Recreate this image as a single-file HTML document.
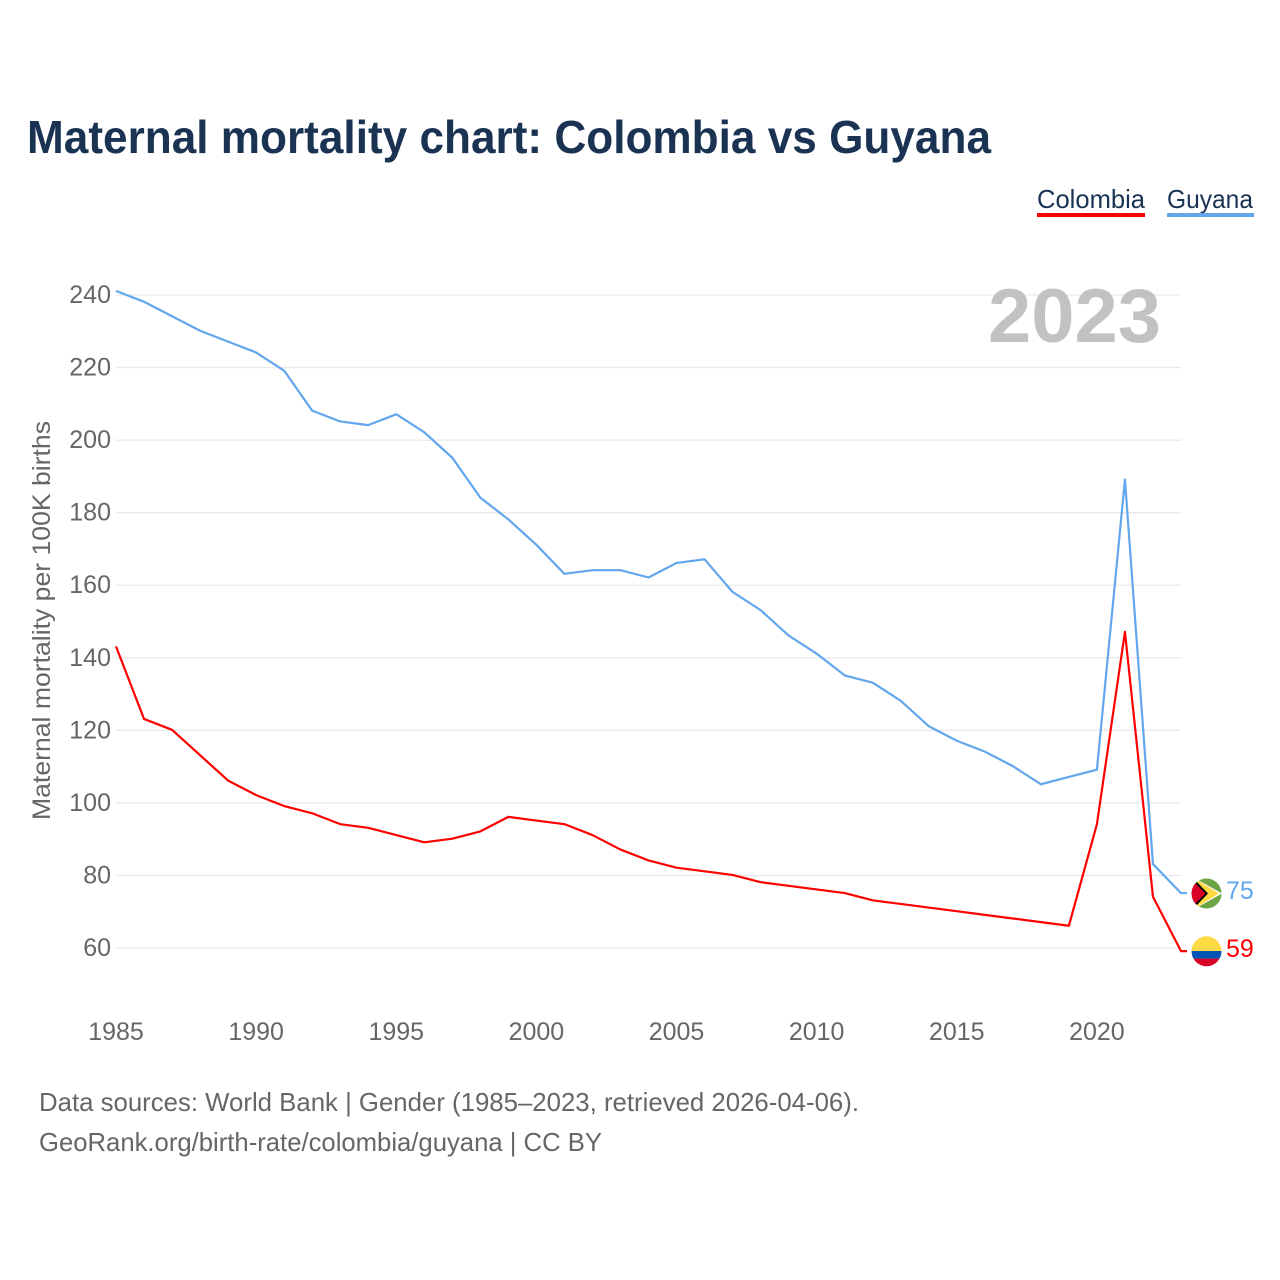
<!DOCTYPE html>
<html lang="en">
<head>
<meta charset="utf-8">
<title>Maternal mortality chart: Colombia vs Guyana</title>
<style>
html,body{margin:0;padding:0;background:#fff;}
svg{display:block;font-family:"Liberation Sans",sans-serif;}
</style>
</head>
<body>
<svg id="chart" width="1280" height="1280" viewBox="0 0 1280 1280" xmlns="http://www.w3.org/2000/svg">
  <defs>
    <clipPath id="clip-guyana"><circle cx="1206.5" cy="893.5" r="15"/></clipPath>
    <clipPath id="clip-colombia"><circle cx="1206.5" cy="951.3" r="15"/></clipPath>
  </defs>
  <rect x="0" y="0" width="1280" height="1280" fill="#fff"/>
  <text x="27" y="153" font-size="46" font-weight="700" fill="#1a3353" textLength="964" lengthAdjust="spacingAndGlyphs">Maternal mortality chart: Colombia vs Guyana</text>

  <g>
    <g>
      <text x="1037" y="208" font-size="26" fill="#1a3353" textLength="108" lengthAdjust="spacingAndGlyphs">Colombia</text>
      <rect x="1037" y="213" width="108" height="4" fill="#ff0000"/>
    </g>
    <g>
      <text x="1167" y="208" font-size="26" fill="#1a3353" textLength="86" lengthAdjust="spacingAndGlyphs">Guyana</text>
      <rect x="1167" y="213" width="87" height="4" fill="#62a6ee"/>
    </g>
  </g>

  <g id="grid"></g>
  <g id="y-ticks"></g>
  <g id="x-ticks"></g>

  <text x="988" y="342" font-size="76" font-weight="700" fill="#c2c2c2" textLength="173" lengthAdjust="spacingAndGlyphs">2023</text>

  <text transform="translate(50,820) rotate(-90)" x="0" y="0" font-size="25" fill="#666" textLength="399" lengthAdjust="spacingAndGlyphs">Maternal mortality per 100K births</text>

  <path id="line-guyana" fill="none" stroke="#62a6ee" stroke-width="2.2" stroke-linejoin="round"/>
  <path id="line-colombia" fill="none" stroke="#ff0000" stroke-width="2.2" stroke-linejoin="round"/>

  <g id="flag-guyana" clip-path="url(#clip-guyana)">
    <rect x="1191" y="878" width="31" height="31" fill="#6da544"/>
    <polygon points="1191,876 1222,893.5 1191,911" fill="#fff"/>
    <polygon points="1194,878 1219,893.5 1194,909" fill="#ffda44"/>
    <polygon points="1193,878 1208,893.5 1193,909" fill="#000"/>
    <polygon points="1190,878 1205.5,893.5 1190,909" fill="#d80027"/>
  </g>
  <g id="flag-colombia" clip-path="url(#clip-colombia)">
    <rect x="1191" y="936" width="31" height="15" fill="#ffda44"/>
    <rect x="1191" y="951" width="31" height="7.6" fill="#0052b4"/>
    <rect x="1191" y="958.6" width="31" height="8" fill="#d80027"/>
  </g>
  <text id="value-guyana" x="1226" y="899" font-size="25" fill="#62a6ee"></text>
  <text id="value-colombia" x="1226" y="957" font-size="25" fill="#ff0000"></text>

  <text x="39" y="1111" font-size="26" fill="#666" textLength="820" lengthAdjust="spacingAndGlyphs">Data sources: World Bank | Gender (1985–2023, retrieved 2026-04-06).</text>
  <text x="39" y="1151" font-size="26" fill="#666" textLength="563" lengthAdjust="spacingAndGlyphs">GeoRank.org/birth-rate/colombia/guyana | CC BY</text>
</svg>
<script>
const firstYear = 1985;
const colombiaValues = [143,123,120,113,106,102,99,97,94,93,91,89,90,92,96,95,94,91,87,84,82,81,80,78,77,76,75,73,72,71,70,69,68,67,66,94,147,74,59];
const guyanaValues = [241,238,234,230,227,224,219,208,205,204,207,202,195,184,178,171,163,164,164,162,166,167,158,153,146,141,135,133,128,121,117,114,110,105,107,109,189,83,75];
const yTickLabels = [240,220,200,180,160,140,120,100,80,60];
const xTickLabels = [1985,1990,1995,2000,2005,2010,2015,2020];

const SVG_NS = 'http://www.w3.org/2000/svg';
function xScale(year) { return 116 + (year - 1985) * (1181 - 116) / 38; }
function yScale(v) { return 948 - (v - 60) * (948 - 295) / 180; }

function makeText(x, y, str, anchor) {
  const t = document.createElementNS(SVG_NS, 'text');
  t.setAttribute('x', x);
  t.setAttribute('y', y);
  t.setAttribute('font-size', '25');
  t.setAttribute('fill', '#666');
  t.setAttribute('text-anchor', anchor);
  t.textContent = str;
  return t;
}

const gridGroup = document.getElementById('grid');
const yGroup = document.getElementById('y-ticks');
yTickLabels.forEach(function (v) {
  const l = document.createElementNS(SVG_NS, 'line');
  
  
  l.setAttribute('x1', 116);
  l.setAttribute('x2', 1181);
  l.setAttribute('y1', yScale(v));
  l.setAttribute('y2', yScale(v));
  l.setAttribute('stroke', '#e9e9e9');
  l.setAttribute('stroke-width', '1.3');
  gridGroup.appendChild(l);
  const t = makeText(111, yScale(v) + 8, String(v), 'end');
  
  
  yGroup.appendChild(t);
});

const xGroup = document.getElementById('x-ticks');
xTickLabels.forEach(function (yr) {
  const t = makeText(xScale(yr), 1040, String(yr), 'middle');
  
  
  xGroup.appendChild(t);
});

function linePath(values) {
  let d = '';
  values.forEach(function (v, i) {
    d += (i === 0 ? 'M' : 'L') + xScale(firstYear + i).toFixed(2) + ' ' + (yScale(v) - 0.5).toFixed(2);
  });
  const last = values[values.length - 1];
  d += 'L1187 ' + (yScale(last) - 0.5).toFixed(2);
  return d;
}
document.getElementById('line-colombia').setAttribute('d', linePath(colombiaValues));
document.getElementById('line-guyana').setAttribute('d', linePath(guyanaValues));

function placeEnd(flagId, valueId, values, baseY) {
  const last = values[values.length - 1];
  const dy = yScale(last) - baseY;
  document.getElementById(flagId).setAttribute('transform', 'translate(0,' + dy.toFixed(2) + ')');
  const label = document.getElementById(valueId);
  label.textContent = String(last);
  label.setAttribute('y', (yScale(last) + 5.5).toFixed(2));
}
placeEnd('flag-colombia', 'value-colombia', colombiaValues, yScale(59));
placeEnd('flag-guyana', 'value-guyana', guyanaValues, yScale(75));
</script>
</body>
</html>
